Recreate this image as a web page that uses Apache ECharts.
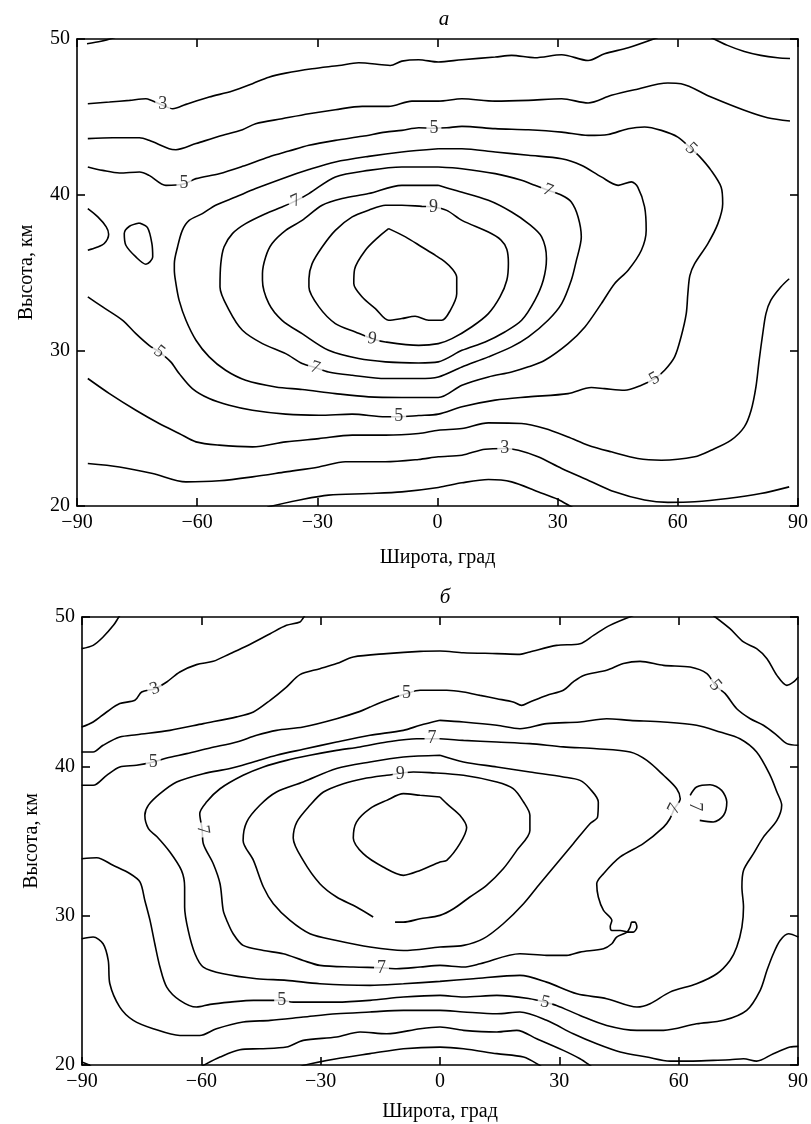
<!DOCTYPE html>
<html>
<head>
<meta charset="utf-8">
<title>Высота-широта</title>
<script src="https://cdn.jsdelivr.net/npm/echarts@6/dist/echarts.min.js"></script>
<style>
html, body { margin: 0; padding: 0; background: #fff; }
#chart { width: 811px; height: 1124px; }
</style>
</head>
<body>
<div id="chart"></div>
<script>
//оси
var latMin = -90, latMax = 90, latStep = 30;
var altMin = 20, altMax = 50, altStep = 10;

//панель а, изолинии [широта, высота]
var a2Top = [[-87.5,49.7],[-84,49.85],[-80.5,50.1]];
var a3Top = [[-87.3,45.84],[-81.9,45.95],[-76.9,46.06],[-72.8,46.16],[-71.5,46.06],[-68.6,45.74],[-66.1,45.52],[-62.8,45.8],[-57.0,46.27],[-51.2,46.66],[-46.2,47.13],[-42.1,47.55],[-37.9,47.81],[-31.3,48.09],[-24.6,48.3],[-19.7,48.47],[-13.9,48.35],[-11.8,48.3],[-8.9,48.58],[-4.7,48.67],[0.2,48.52],[6.1,48.67],[14.4,48.84],[18.5,48.95],[24.3,48.8],[31.0,48.99],[37.6,48.62],[41.7,49.05],[47.6,49.44],[55.0,50.1]];
var a3Right = [[68.3,50.1],[72.4,49.59],[76.6,49.2],[80.7,48.95],[84.9,48.8],[88.0,48.75]];
var a4Top = [[-87.3,43.6],[-81.1,43.66],[-74.4,43.66],[-72.0,43.49],[-67.0,42.95],[-65.3,42.89],[-60.3,43.28],[-54.5,43.75],[-48.7,44.17],[-45.4,44.56],[-38.8,44.88],[-32.1,45.2],[-25.5,45.46],[-18.8,45.67],[-12.2,45.67],[-6.4,46.01],[0.2,46.01],[6.1,46.16],[14.4,46.01],[22.7,46.06],[31.0,46.16],[37.6,45.89],[43.4,46.38],[49.2,46.74],[57.5,47.17],[60.8,47.13],[68.3,46.27],[76.6,45.42],[82.4,44.94],[88.0,44.73]];
var a5 = [[-87.3,41.78],[-83.6,41.56],[-79.4,41.39],[-74.4,41.46],[-72.0,41.24],[-67.8,40.6],[-63.2,40.7],[-60.3,41.03],[-54.5,41.35],[-48.7,41.82],[-42.1,42.42],[-37.1,42.8],[-32.1,43.17],[-25.5,43.49],[-18.8,43.75],[-13.0,44.02],[-8.9,44.13],[-4.7,44.3],[-1.0,44.27],[2.3,44.3],[6.1,44.39],[14.4,44.24],[22.7,44.17],[31.0,44.02],[37.6,43.81],[42.6,43.87],[47.6,44.24],[51.7,44.35],[55.9,44.13],[60.0,43.7],[63.3,42.96],[65.4,42.46],[68.3,41.56],[70.8,40.49],[71.2,39.42],[70.0,38.14],[67.5,36.86],[64.2,35.57],[63.0,34.8],[62.5,33.64],[62.1,32.36],[60.8,30.86],[59.2,29.58],[56.7,28.72],[54.2,28.18],[50.9,27.76],[46.7,27.44],[41.7,27.54],[38.4,27.61],[32.6,27.22],[22.7,27.01],[14.4,26.8],[6.1,26.37],[0.2,25.9],[-4.7,25.81],[-9.7,25.73],[-13.0,25.73],[-21.3,25.9],[-29.6,25.83],[-37.9,25.9],[-46.2,26.15],[-52.0,26.47],[-57.0,26.9],[-61.2,27.54],[-64.5,28.51],[-66.6,29.26],[-69.5,29.9],[-72.0,30.32],[-75.3,31.07],[-78.6,31.93],[-83.6,32.79],[-87.3,33.43]];
var a6Edge = [[-87.3,39.1],[-84.8,38.57],[-82.7,37.93],[-82.1,37.46],[-83.2,36.86],[-85.2,36.6],[-87.3,36.43]];
var a6Loop = [[-74.4,38.18],[-72.4,37.88],[-71.3,36.86],[-71.1,36.0],[-72.8,35.53],[-75.3,36.0],[-77.8,36.75],[-78.2,37.5],[-76.9,37.97],[-74.4,38.18]];
var a6 = [[0.2,42.95],[-8.9,42.74],[-17.2,42.46],[-25.5,42.1],[-32.1,41.61],[-38.8,41.03],[-45.4,40.39],[-50.4,39.85],[-55.4,39.32],[-58.7,38.78],[-62.0,38.35],[-63.7,37.71],[-64.9,36.64],[-65.7,35.57],[-65.7,35.14],[-65.3,34.28],[-64.5,33.21],[-62.8,31.93],[-60.3,30.65],[-57.0,29.58],[-52.9,28.72],[-47.9,28.08],[-40.4,27.65],[-33.8,27.48],[-25.5,27.22],[-17.2,27.01],[-8.9,26.97],[0.2,26.97],[6.1,27.76],[12.7,28.29],[18.5,28.61],[22.7,28.94],[26.8,29.36],[32.6,30.43],[36.8,31.5],[40.9,33.0],[44.2,34.28],[47.6,35.15],[50.9,36.43],[52.1,37.71],[51.7,39.21],[50.0,40.49],[48.4,40.82],[45.1,40.6],[40.9,41.14],[35.9,41.89],[31.0,42.31],[22.7,42.53],[14.4,42.74],[6.1,42.95],[0.2,42.95]];
var a7 = [[0.2,41.78],[-8.9,41.78],[-17.2,41.56],[-25.5,41.14],[-32.1,40.07],[-35.4,39.6],[-38.8,39.21],[-42.9,38.78],[-47.9,38.14],[-51.2,37.5],[-53.3,36.64],[-54.1,35.57],[-54.3,34.07],[-52.0,32.57],[-48.7,31.29],[-43.7,30.43],[-37.9,29.79],[-33.8,29.15],[-30.5,28.89],[-27.2,28.61],[-21.3,28.4],[-13.0,28.19],[-4.7,28.19],[0.2,28.29],[6.1,28.93],[12.7,29.58],[18.5,30.22],[22.7,30.86],[27.6,31.93],[31.0,33.0],[33.4,34.5],[34.6,35.7],[35.9,37.29],[35.1,38.57],[33.4,39.53],[31.0,39.96],[27.6,40.28],[24.3,40.6],[21.0,40.92],[14.4,41.35],[6.1,41.67],[0.2,41.78]];
var a8 = [[0.2,40.6],[-8.9,40.6],[-17.2,40.07],[-23.8,39.75],[-28.8,39.32],[-33.8,38.35],[-37.9,37.71],[-41.3,36.86],[-42.9,36.0],[-43.7,34.93],[-43.7,34.5],[-42.1,33.0],[-38.8,31.93],[-33.8,31.07],[-27.2,30.0],[-19.7,29.47],[-13.0,29.26],[-4.7,29.19],[0.2,29.26],[6.1,30.0],[11.9,30.54],[16.8,31.18],[21.0,31.93],[24.3,33.21],[26.4,34.5],[27.2,35.9],[26.0,37.29],[22.7,38.14],[18.5,38.89],[12.7,39.64],[4.4,40.28],[0.2,40.6]];
var a9 = [[-1.2,39.22],[-3.9,39.25],[-8.9,39.32],[-13.0,39.32],[-17.2,39.0],[-21.3,38.57],[-25.5,37.71],[-28.8,36.64],[-31.3,35.57],[-32.1,34.6],[-32.1,34.07],[-29.6,32.79],[-25.5,31.72],[-20.5,31.18],[-16.3,30.75],[-13.0,30.54],[-4.7,30.32],[0.2,30.43],[3.6,30.75],[8.5,31.5],[12.7,32.36],[15.6,33.43],[17.3,34.5],[17.7,35.6],[17.3,36.5],[15.8,37.1],[12.7,37.6],[6.1,38.35],[2.3,38.99],[-1.2,39.22]];
var a10 = [[-12.2,37.82],[-8.0,37.29],[-3.9,36.64],[-0.5,36.1],[1.8,35.7],[3.8,35.2],[4.8,34.7],[4.8,33.64],[3.2,32.57],[1.1,31.93],[-2.2,31.93],[-5.6,32.19],[-8.9,32.04],[-12.2,31.93],[-15.5,32.68],[-18.8,33.43],[-20.9,34.3],[-20.7,35.2],[-18.0,36.43],[-14.7,37.29],[-12.2,37.82]];
var a4Low = [[-87.3,28.19],[-81.9,27.22],[-75.3,26.15],[-69.5,25.3],[-64.5,24.66],[-60.3,24.12],[-54.5,23.91],[-46.2,23.8],[-37.9,24.12],[-29.6,24.33],[-21.3,24.55],[-13.0,24.55],[-4.7,24.66],[0.2,24.87],[6.1,24.98],[12.7,25.34],[21.0,25.3],[26.8,24.98],[32.6,24.44],[37.6,23.91],[43.4,23.48],[50.0,23.05],[55.9,22.94],[64.2,23.16],[68.3,23.58],[73.3,24.23],[76.6,25.08],[78.3,26.15],[79.5,27.65],[80.3,29.36],[81.2,31.07],[82.0,32.36],[83.2,33.21],[85.7,34.07],[87.8,34.6]];
var a3Low = [[-87.3,22.73],[-79.4,22.51],[-71.1,22.09],[-62.8,21.55],[-54.5,21.62],[-46.2,21.87],[-37.9,22.19],[-29.6,22.51],[-23.0,22.84],[-13.0,22.84],[-4.7,22.99],[0.2,23.16],[6.1,23.26],[11.9,23.65],[16.8,23.69],[20.2,23.58],[25.1,23.16],[31.0,22.41],[37.6,21.66],[44.2,20.91],[51.7,20.38],[57.5,20.23],[64.2,20.27],[72.4,20.48],[80.7,20.8],[87.8,21.23]];
var a2Low = [[-43,19.8],[-42.1,19.95],[-33.8,20.42],[-27.2,20.7],[-17.2,20.8],[-8.9,20.91],[0.2,21.19],[6.1,21.49],[12.7,21.7],[18.5,21.55],[25.1,20.91],[30.1,20.42],[33.4,19.95],[34.5,19.8]];

//панель б
var bCorner = [[-90.1,47.88],[-87.2,48.1],[-84.7,48.66],[-82.1,49.44],[-80.9,49.93],[-80.5,50.1]];
var b3Top = [[-90.1,42.63],[-87.2,42.97],[-83.8,43.64],[-80.5,44.2],[-76.7,44.42],[-75.0,44.98],[-71.7,45.2],[-68.7,45.65],[-65.4,46.32],[-61.2,46.81],[-57.0,47.03],[-52.8,47.54],[-48.6,48.06],[-42.7,48.88],[-38.6,49.44],[-35.2,49.67],[-34.4,49.93],[-34.0,50.1]];
var b4Top = [[-90.1,40.96],[-87.2,40.96],[-84.7,41.41],[-80.5,41.96],[-76.3,42.12],[-67.9,42.41],[-59.5,42.86],[-51.1,43.31],[-46.9,43.64],[-42.7,44.42],[-38.6,45.31],[-35.2,46.14],[-30.2,46.54],[-26.0,46.88],[-21.8,47.32],[-13.4,47.55],[-5.0,47.7],[0,47.72],[5.9,47.61],[14.3,47.55],[20.1,47.5],[22.6,47.66],[29.3,48.1],[35.2,48.21],[38.6,48.77],[42.7,49.44],[48.6,50.1]];
var b4Right = [[68.7,50.1],[72.9,49.22],[76.3,48.33],[79.6,47.88],[82.2,47.21],[84.7,46.09],[87.2,45.42],[88.9,45.65],[90.1,45.98]];
var b5Top = [[-90.1,38.73],[-87.2,38.73],[-83.8,39.4],[-80.5,39.96],[-76.3,40.07],[-72.1,40.29],[-68.7,40.56],[-63.7,40.85],[-57.8,41.23],[-51.1,41.63],[-46.1,42.08],[-41.1,42.41],[-34.4,42.63],[-26.0,43.19],[-20.1,43.68],[-17.6,43.97],[-13.4,44.42],[-8.4,44.87],[-5.0,45.09],[0,45.09],[1.7,45.09],[5.9,44.98],[10.1,44.75],[14.3,44.53],[18.4,44.31],[20.5,44.08],[22.6,44.31],[26.8,44.75],[31.0,45.09],[33.5,45.65],[36.1,46.09],[41.9,46.43],[46.1,46.88],[50.3,47.03],[56.2,46.76],[62.9,46.65],[67.1,46.21],[69.2,45.42],[71.7,44.87],[74.6,43.86],[78.0,43.19],[81.3,42.75],[84.7,42.08],[87.2,41.52],[90.1,41.41]];
var b6 = [[0,43.08],[-5.0,42.75],[-9.2,42.41],[-17.6,42.08],[-26.0,41.63],[-34.4,41.14],[-41.1,40.74],[-46.9,40.29],[-52.8,39.85],[-59.5,39.51],[-66.2,38.95],[-70.4,38.17],[-73.3,37.4],[-74.2,36.72],[-73.3,35.83],[-71.2,35.3],[-67.9,34.26],[-65.0,33.03],[-64.2,31.92],[-64.2,30.58],[-63.3,29.01],[-61.6,27.45],[-59.5,26.56],[-54.5,26.11],[-46.1,25.78],[-38.6,25.67],[-30.2,25.44],[-17.6,25.33],[-9.2,25.44],[0,25.6],[8.4,25.78],[20.1,26.0],[26.8,25.55],[34.4,24.77],[41.9,24.44],[49.5,23.88],[52.8,24.1],[57.8,24.88],[64.5,25.44],[69.6,26.11],[72.9,27.0],[74.6,27.9],[75.9,29.24],[76.3,30.58],[75.9,31.92],[76.3,33.03],[78.8,34.15],[81.3,35.26],[84.7,36.38],[85.9,37.39],[84.7,38.28],[83.0,39.4],[79.6,40.96],[75.4,41.85],[70.4,42.3],[64.5,42.75],[56.2,42.97],[47.8,43.08],[41.9,43.19],[35.2,42.97],[26.8,42.86],[20.1,42.52],[14.3,42.75],[5.9,42.97],[0,43.08]];
var b7 = [[0,41.85],[5.9,41.74],[14.3,41.63],[22.6,41.52],[31.0,41.3],[39.4,41.18],[47.8,40.96],[52.0,40.4],[56.2,39.4],[59.5,38.5],[60.4,37.83],[58.9,37.15],[57.8,36.49],[56.2,35.93],[51.1,34.82],[45.3,33.93],[41.1,32.81],[39.4,32.14],[39.8,31.25],[41.1,30.35],[43.2,29.68],[42.8,29.28],[43.2,29.01],[45.3,29.01],[47.4,28.9],[48.6,28.9],[49.5,29.24],[49.0,29.57],[48.2,29.57],[47.8,29.24],[47.0,28.9],[44.4,28.57],[43.2,28.12],[41.1,27.79],[35.2,27.56],[31.9,27.34],[26.8,27.34],[20.1,27.45],[10.1,26.78],[5.9,26.56],[0,26.67],[-5.0,26.56],[-10.9,26.45],[-14.7,26.51],[-21.8,26.56],[-30.2,26.67],[-34.4,27.0],[-39.4,27.45],[-44.4,27.67],[-49.5,28.01],[-52.0,28.79],[-53.6,29.68],[-54.5,30.35],[-55.3,32.14],[-57.0,33.48],[-59.5,34.82],[-59.8,35.8],[-60.4,36.83],[-58.7,37.61],[-55.3,38.5],[-49.5,39.4],[-44.4,39.96],[-38.6,40.4],[-32.7,40.74],[-26.0,41.07],[-20.1,41.3],[-13.4,41.63],[-5.9,41.85],[0,41.85]];
var b7Loop = [[65.3,36.38],[68.7,36.27],[71.3,36.72],[72.1,37.61],[70.8,38.39],[67.9,38.77],[64.5,38.62],[62.9,38.06]];
var b8 = [[0,40.74],[-9.2,40.62],[-17.6,40.29],[-26.0,39.85],[-34.4,38.95],[-41.1,38.28],[-45.3,37.39],[-48.6,36.27],[-49.5,35.04],[-46.9,33.7],[-44.4,31.92],[-41.9,30.8],[-37.7,29.68],[-32.7,28.79],[-26.0,28.34],[-17.6,27.9],[-9.2,27.67],[0,27.9],[5.9,28.01],[10.9,28.46],[15.9,29.46],[21.0,30.8],[25.1,32.14],[29.3,33.48],[33.5,34.82],[37.7,36.16],[39.6,36.6],[39.8,37.61],[37.7,38.5],[35.2,39.06],[31.0,39.29],[22.6,39.62],[14.3,39.96],[5.9,40.29],[0,40.74]];
var b9 = [[-11.3,29.57],[-9.2,29.57],[-5.0,29.79],[0,30.02],[3.4,30.46],[7.5,31.25],[11.7,32.03],[15.9,33.14],[19.3,34.37],[22.6,35.71],[22.6,36.72],[21.0,37.61],[18.4,38.5],[14.3,38.95],[5.9,39.4],[-2.5,39.58],[-6.7,39.62],[-13.4,39.4],[-19.3,39.17],[-24.3,38.84],[-29.3,38.28],[-32.7,37.39],[-36.0,36.27],[-36.9,35.2],[-34.4,33.7],[-30.2,32.14],[-26.0,31.25],[-21.0,30.58],[-16.8,29.91]];
var b10 = [[0,37.95],[-5.0,38.06],[-9.2,38.17],[-13.4,37.72],[-17.6,37.17],[-21.0,36.27],[-21.8,35.2],[-19.3,34.15],[-14.3,33.26],[-9.2,32.7],[-5.0,33.03],[0,33.59],[1.7,33.7],[5.0,34.82],[6.7,35.9],[5.0,36.72],[1.7,37.5],[0,37.95]];
var b5Low = [[-90.1,33.81],[-86.3,33.88],[-82.2,33.37],[-77.9,32.81],[-75.4,32.25],[-74.2,31.02],[-72.9,29.68],[-71.7,28.12],[-70.4,26.56],[-68.7,25.22],[-65.4,24.33],[-61.2,23.88],[-57.8,24.06],[-52.8,24.21],[-46.9,24.33],[-39.8,24.33],[-36.9,24.21],[-26.0,24.21],[-17.6,24.33],[-9.2,24.55],[0,24.66],[5.9,24.55],[14.3,24.66],[22.6,24.44],[26.4,24.21],[29.3,23.99],[35.2,23.32],[41.9,22.65],[49.5,22.32],[56.2,22.32],[64.5,22.76],[71.3,22.99],[77.1,23.66],[80.5,25.0],[82.2,26.34],[83.8,27.45],[85.5,28.34],[87.6,28.79],[90.1,28.57]];
var b4Low = [[-90.1,28.46],[-87.2,28.57],[-84.7,28.12],[-83.4,27.0],[-83.0,25.44],[-80.5,23.88],[-77.1,22.99],[-72.1,22.43],[-65.4,21.98],[-60.4,21.98],[-56.2,22.43],[-49.5,22.88],[-42.7,22.99],[-34.4,23.21],[-26.0,23.43],[-17.6,23.55],[-9.2,23.66],[0,23.66],[5.9,23.55],[14.3,23.43],[20.1,23.55],[26.8,22.99],[33.5,22.09],[39.4,21.42],[45.3,20.87],[52.0,20.53],[57.8,20.26],[62.9,20.26],[68.7,20.31],[72.9,20.35],[76.3,20.42],[79.6,20.26],[83.8,20.76],[88.0,21.2],[90.1,21.25]];
var b3Low = [[-60.5,19.8],[-59.5,19.97],[-55.3,20.53],[-50.3,21.02],[-45.3,21.09],[-38.6,21.2],[-34.4,21.65],[-26.0,21.87],[-20.1,22.21],[-13.4,22.09],[-5.0,22.43],[0,22.54],[5.9,22.32],[14.3,22.21],[19.3,22.32],[24.3,21.76],[31.0,20.98],[35.2,20.42],[37.7,19.97],[38.5,19.8]];
var b2Low = [[-35.5,19.8],[-34.4,19.97],[-26.0,20.42],[-17.6,20.76],[-9.2,21.09],[0,21.2],[5.9,21.09],[14.3,20.76],[21.0,20.53],[25.1,19.97],[25.8,19.8]];
var bCornerLow = [[-90.1,20.2],[-88.0,19.97],[-87.5,19.8]];

//подписи изолиний
var aLabelText = ["3", "5", "5", "7", "9", "5", "7", "5", "7", "9", "5", "5", "3"];
var aLabelPos = [[-68.6,45.8],[-63.3,40.75],[-0.9,44.26],[-35.4,39.6],[-1.0,39.22],[63.3,42.96],[27.6,40.28],[-69.5,29.9],[-30.5,28.89],[-16.3,30.75],[-9.7,25.75],[54.2,28.18],[16.8,23.69]];
var aLabelRot = [0, 0, 0, 25, 0, -45, -22, -38, -18, -8, 0, 30, 0];
var bLabelText = ["3", "5", "5", "7", "9", "5", "7", "7", "7", "7", "5", "5"];
var bLabelPos = [[-71.7,45.2],[-72.1,40.29],[-8.4,44.87],[-2.0,41.85],[-10.0,39.5],[69.2,45.42],[-59.6,35.75],[58.9,37.15],[64.0,37.3],[-14.7,26.51],[-39.8,24.33],[26.4,24.21]];
var bLabelRot = [22, 0, 0, 0, 0, -50, -82, 63, -90, 0, 0, -14];

var aLines = [a2Top, a3Top, a3Right, a4Top, a5, a6Edge, a6Loop, a6, a7, a8, a9, a10, a4Low, a3Low, a2Low];
var bLines = [bCorner, b3Top, b4Top, b4Right, b5Top, b6, b7, b7Loop, b8, b9, b10, b5Low, b4Low, b3Low, b2Low, bCornerLow];

var chart = echarts.init(document.getElementById("chart"));

var serif = "Liberation Serif";

function latFormat(v) {
    return v < 0 ? "\u2212" + Math.abs(v) : String(v);
}

function xAxisCfg(grid, pos, withLabels, gap) {
    return {
        gridIndex: grid,
        type: "value",
        position: pos,
        min: latMin,
        max: latMax,
        interval: latStep,
        name: withLabels ? "Широта, град" : "",
        nameLocation: "middle",
        nameGap: gap,
        nameTextStyle: { color: "#000", fontSize: 20, fontFamily: serif },
        axisLine: { show: true, onZero: false, lineStyle: { color: "#000", width: 1.6 } },
        axisTick: { show: true, inside: true, length: 8, lineStyle: { color: "#000", width: 1.6 } },
        axisLabel: { show: withLabels, color: "#000", fontSize: 20, fontFamily: serif, margin: 7, formatter: latFormat },
        splitLine: { show: false }
    };
}

function yAxisCfg(grid, pos, withLabels) {
    return {
        gridIndex: grid,
        type: "value",
        position: pos,
        min: altMin,
        max: altMax,
        interval: altStep,
        name: withLabels ? "Высота, км" : "",
        nameLocation: "middle",
        nameGap: 40,
        nameTextStyle: { color: "#000", fontSize: 20, fontFamily: serif },
        axisLine: { show: true, onZero: false, lineStyle: { color: "#000", width: 1.6 } },
        axisTick: { show: true, inside: true, length: 8, lineStyle: { color: "#000", width: 1.6 } },
        axisLabel: { show: withLabels, color: "#000", fontSize: 20, fontFamily: serif, margin: 7 },
        splitLine: { show: false }
    };
}

function lineSeries(data, axis) {
    return {
        type: "line",
        xAxisIndex: axis,
        yAxisIndex: axis,
        data: data,
        symbol: "none",
        smooth: 0.3,
        silent: true,
        z: 2,
        lineStyle: { color: "#000", width: 1.6 }
    };
}

function labelSeries(text, pos, rot, axis) {
    var items = [];
    for (var i = 0; i < text.length; i++) {
        items.push({ name: text[i], value: pos[i], label: { rotate: rot[i] } });
    }
    return {
        type: "scatter",
        xAxisIndex: axis,
        yAxisIndex: axis,
        data: items,
        symbolSize: 1,
        silent: true,
        z: 5,
        itemStyle: { color: "rgba(0,0,0,0)" },
        label: {
            show: true,
            position: "inside",
            formatter: "{b}",
            color: "#000",
            fontSize: 18,
            fontFamily: serif,
            backgroundColor: "#fff",
            padding: [0, 3]
        }
    };
}

var series = [];
for (var i = 0; i < aLines.length; i++) series.push(lineSeries(aLines[i], 0));
for (var j = 0; j < bLines.length; j++) series.push(lineSeries(bLines[j], 2));
series.push(labelSeries(aLabelText, aLabelPos, aLabelRot, 0));
series.push(labelSeries(bLabelText, bLabelPos, bLabelRot, 2));

//配置项
var option = {
    animation: false,
    backgroundColor: "#fff",
    title: [
        { text: "а", left: 439, top: 4, textAlign: "center",
          textStyle: { color: "#000", fontSize: 21, fontStyle: "italic", fontWeight: "normal", fontFamily: serif } },
        { text: "б", left: 440, top: 582, textAlign: "center",
          textStyle: { color: "#000", fontSize: 21, fontStyle: "italic", fontWeight: "normal", fontFamily: serif } }
    ],
    grid: [
        { left: 77, top: 39, width: 723, height: 467 },
        { left: 82, top: 617, width: 716, height: 448 }
    ],
    xAxis: [
        xAxisCfg(0, "bottom", true, 42),
        xAxisCfg(0, "top", false, 0),
        xAxisCfg(1, "bottom", true, 37),
        xAxisCfg(1, "top", false, 0)
    ],
    yAxis: [
        yAxisCfg(0, "left", true),
        yAxisCfg(0, "right", false),
        yAxisCfg(1, "left", true),
        yAxisCfg(1, "right", false)
    ],
    series: series
};

chart.setOption(option);
</script>
</body>
</html>
